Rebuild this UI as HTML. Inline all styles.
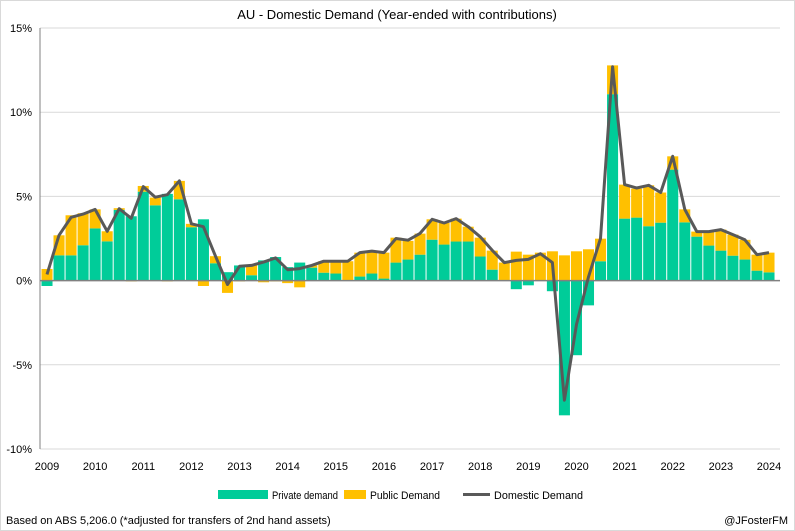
<!DOCTYPE html>
<html><head><meta charset="utf-8"><style>
body{margin:0;background:#fff;font-family:"Liberation Sans",sans-serif}
#wrap{position:relative;width:795px;height:531px;overflow:hidden}
svg text{font-family:"Liberation Sans",sans-serif;fill:#000}
</style></head><body>
<div id="wrap">
<svg id="chart" width="795" height="531">
<rect x="0.5" y="0.5" width="794" height="530" fill="#fff" stroke="#d9d9d9"/>
<text x="397" y="19" text-anchor="middle" font-size="13">AU - Domestic Demand (Year-ended with contributions)</text>
<g id="grid"></g><g id="bars"></g><g id="axes"></g><g id="line"></g>
<g>
<rect x="218" y="490" width="50" height="9" fill="#00CC99"/>
<text x="272" y="499" font-size="11" textLength="66" lengthAdjust="spacingAndGlyphs">Private demand</text>
<rect x="344" y="490" width="22" height="9" fill="#FFC000"/>
<text x="370" y="499" font-size="11" textLength="70" lengthAdjust="spacingAndGlyphs">Public Demand</text>
<line x1="463" y1="494.5" x2="490" y2="494.5" stroke="#595959" stroke-width="3"/>
<text x="494" y="499" font-size="11" textLength="89" lengthAdjust="spacingAndGlyphs">Domestic Demand</text>
</g>
<text x="6" y="524" font-size="11">Based on ABS 5,206.0 (*adjusted for transfers of 2nd hand assets)</text>
<text x="788" y="524" font-size="11" text-anchor="end">@JFosterFM</text>
</svg></div>
<script>
const privateDemand=[-0.32,1.5,1.5,2.1,3.1,2.33,4.2,3.82,5.28,4.47,5.15,4.83,3.17,3.64,1.03,0.5,0.9,0.32,1.2,1.4,0.8,1.07,0.77,0.47,0.42,0,0.24,0.42,0.12,1.07,1.25,1.54,2.43,2.14,2.32,2.32,1.43,0.65,0,-0.51,-0.28,0,-0.63,-8.0,-4.43,-1.47,1.15,11.07,3.68,3.74,3.23,3.44,6.59,3.46,2.61,2.08,1.78,1.48,1.25,0.59,0.49];
const publicDemand=[0.69,1.19,2.38,1.9,1.13,0.6,0.1,-0.05,0.34,0.46,-0.05,1.09,0.2,-0.32,0.42,-0.73,-0.05,0.58,-0.1,-0.05,-0.15,-0.4,0.13,0.68,0.73,1.15,1.42,1.28,1.54,1.48,1.11,1.25,1.21,1.28,1.36,0.88,1.12,1.13,1.07,1.72,1.54,1.66,1.74,1.5,1.74,1.86,1.34,1.71,2.02,1.72,2.43,1.79,0.79,0.77,0.3,0.83,1.25,1.25,1.17,0.95,1.17];
const domesticDemand=[0.37,2.69,3.76,3.95,4.23,2.93,4.27,3.7,5.58,4.95,5.1,5.92,3.37,3.2,1.45,-0.23,0.85,0.9,1.1,1.35,0.65,0.71,0.9,1.15,1.15,1.15,1.66,1.75,1.66,2.5,2.4,2.8,3.64,3.42,3.68,3.2,2.6,1.8,1.07,1.2,1.26,1.6,1.07,-7.1,-2.6,0.22,2.5,12.7,5.7,5.5,5.66,5.23,7.38,4.23,2.91,2.91,3.03,2.73,2.42,1.54,1.66];
const yTicks=[-10,-5,0,5,10,15];
const xYears=[2009,2010,2011,2012,2013,2014,2015,2016,2017,2018,2019,2020,2021,2022,2023,2024];

const NS="http://www.w3.org/2000/svg";
const L=40,R=780,T=28,B=449,yMin=-10,yMax=15;
const step=(769-47)/(privateDemand.length-1);
function y(v){return T+(yMax-v)/(yMax-yMin)*(B-T);}
function x(i){return 47+i*step;}
function mk(tag,attrs,parent){const e=document.createElementNS(NS,tag);for(const k in attrs)e.setAttribute(k,attrs[k]);parent.appendChild(e);return e;}
const grid=document.getElementById('grid'),bars=document.getElementById('bars'),axes=document.getElementById('axes'),lineG=document.getElementById('line');
yTicks.forEach(t=>{
  if(t!==0){const g=mk('line',{x1:L,x2:R,y1:y(t),y2:y(t),stroke:'#d9d9d9','stroke-width':1},grid);
  
  }
  const tx=mk('text',{x:32,y:y(t)+4,'text-anchor':'end','font-size':11},axes);
  tx.textContent=t+'%';
  
  
});
const bw=step-1;
privateDemand.forEach((p,i)=>{
  const pub=publicDemand[i];
  let pos=0,neg=0;
  function seg(v,color,name){
    let y0,y1;
    if(v>=0){y0=y(pos+v);y1=y(pos);pos+=v;}else{y0=y(neg);y1=y(neg+v);neg+=v;}
    const r=mk('rect',{x:x(i)-bw/2,y:y0,width:bw,height:Math.max(0,y1-y0),fill:color},bars);
    
    
  }
  seg(p,'#00CC99','bar-private');
  seg(pub,'#FFC000','bar-public');
});
const ax=mk('line',{x1:L,x2:R,y1:y(0),y2:y(0),stroke:'#808080','stroke-width':1.5},axes);


const ya=mk('line',{x1:L,x2:L,y1:T,y2:B,stroke:'#808080','stroke-width':1},axes);


xYears.forEach((yr,k)=>{
  const t=mk('text',{x:x(k*4),y:470,'text-anchor':'middle','font-size':11},axes);
  t.textContent=yr;
  
  
});
const pts=domesticDemand.map((v,i)=>x(i).toFixed(1)+','+y(v).toFixed(1)).join(' ');
const pl=mk('polyline',{points:pts,fill:'none',stroke:'#595959','stroke-width':3,'stroke-linejoin':'round'},lineG);


</script>
</body></html>
